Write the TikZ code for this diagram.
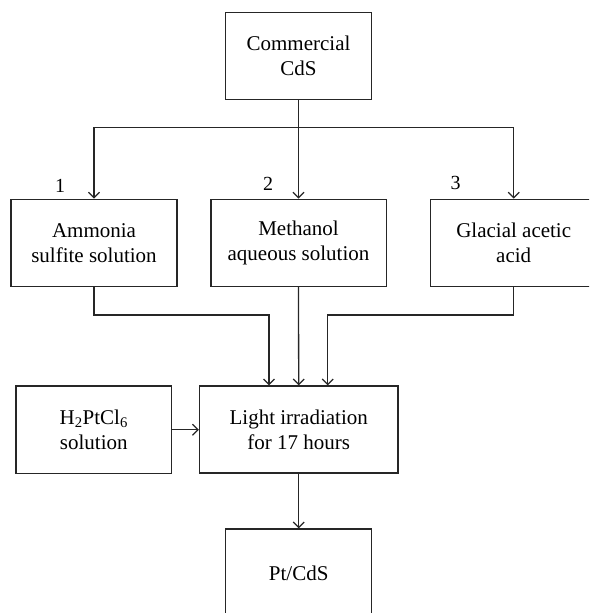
\documentclass[tikz,border=0pt]{standalone}
\usepackage{fontspec}
\setmainfont{Liberation Serif}
\usetikzlibrary{arrows.meta,calc}
\tikzset{
  box/.style={draw=black!85, line width=1.3pt, rectangle, inner sep=0pt, align=center,
    font=\fontsize{21}{25}\selectfont},
  arr/.style={draw=black!85, line width=1.3pt, -{Straight Barb[length=5.5pt,width=11pt,line width=1.2pt]}},
  lbl/.style={inner sep=0pt, font=\fontsize{20}{24}\selectfont}
}
\begin{document}
\begin{tikzpicture}[x=1pt,y=-1pt]
\useasboundingbox (0,0) rectangle (589,613);
\clip (0,0) rectangle (589,613);
\node[box, minimum width=146.4pt, minimum height=87pt] (cds) at (298.5,55.8) {Commercial\\CdS};
\node[box, minimum width=166pt, minimum height=87pt] (amm) at (94,242.7) {Ammonia\\sulfite solution};
\node[box, minimum width=175.3pt, minimum height=87pt] (meth) at (298.5,242.7) {Methanol\\aqueous solution};
\node[box, minimum width=167pt, minimum height=87pt] (gla) at (513.7,242.7) {Glacial acetic\\acid};
\node[box, minimum width=155.7pt, minimum height=87.3pt] (h2) at (93.8,429.7) {H\textsubscript{2}PtCl\textsubscript{6}\\solution};
\node[box, minimum width=198.5pt, minimum height=87pt] (light) at (298.7,429.5) {Light irradiation\\for 17 hours};
\node[box, minimum width=146pt, minimum height=88pt] (pt) at (298.7,573) {Pt/CdS};
\node[lbl] (l1) at (60,186) {1};
\node[lbl] (l2) at (268,184) {2};
\node[lbl] (l3) at (455.7,183) {3};
\coordinate (top) at (298.5,127.3);
\draw[arr] (cds.south) -- (top) -| (amm.north);
\draw[arr] (top) -| (gla.north);
\draw[arr] (top) -- (meth.north);
\coordinate (la) at ([xshift=-29.7pt]light.north);
\coordinate (ra) at ([xshift=29pt]light.north);
\draw[arr] (amm.south) -- ++(0,28) -| (la);
\draw[arr] (gla.south) -- ++(0,28) -| (ra);
\draw[arr] (meth.south) -- (light.north);
\draw[arr] (h2.east) -- (light.west |- h2.east);
\draw[arr] (light.south) -- (pt.north);
\end{tikzpicture}
\end{document}
